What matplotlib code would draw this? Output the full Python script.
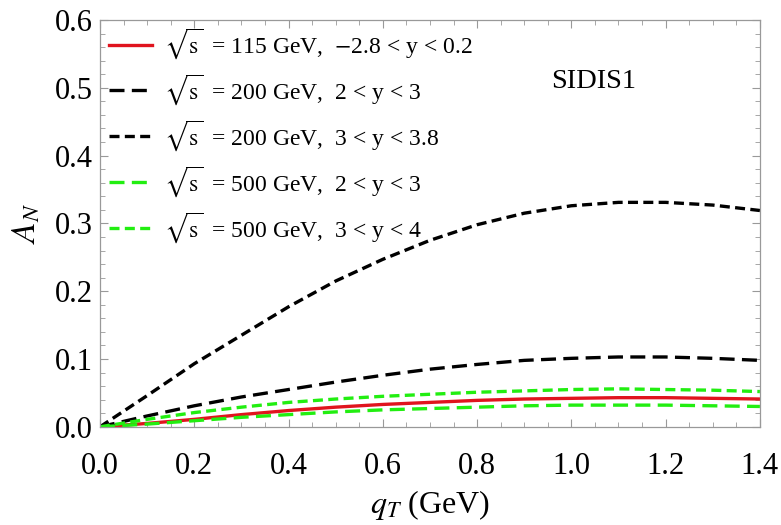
import matplotlib
matplotlib.use("Agg")
import matplotlib.pyplot as plt
from matplotlib.ticker import MultipleLocator, FormatStrFormatter

plt.rcParams['font.family'] = ['Liberation Serif', 'DejaVu Serif']
plt.rcParams['mathtext.fontset'] = 'stix'

qT = [0.0, 0.1, 0.2, 0.3, 0.4, 0.5, 0.6, 0.7, 0.8, 0.9, 1.0, 1.1, 1.2, 1.3, 1.4]
an_115 = [0.0, 0.005, 0.011, 0.018, 0.024, 0.029, 0.033, 0.036, 0.039, 0.041, 0.042, 0.043, 0.043, 0.042, 0.041]
an_200_23 = [0.0, 0.016, 0.031, 0.044, 0.055, 0.066, 0.076, 0.085, 0.092, 0.098, 0.101, 0.103, 0.103, 0.101, 0.098]
an_200_338 = [0.0, 0.046, 0.093, 0.135, 0.177, 0.215, 0.247, 0.275, 0.298, 0.315, 0.326, 0.331, 0.331, 0.327, 0.319]
an_500_23 = [0.0, 0.004, 0.009, 0.014, 0.018, 0.022, 0.025, 0.027, 0.029, 0.031, 0.032, 0.032, 0.032, 0.031, 0.030]
an_500_34 = [0.0, 0.011, 0.021, 0.029, 0.036, 0.041, 0.045, 0.048, 0.051, 0.053, 0.055, 0.056, 0.055, 0.054, 0.052]

labels = [
    r'$\sqrt{\mathrm{s}}\;$ = 115 GeV,  $-$2.8 < y < 0.2',
    r'$\sqrt{\mathrm{s}}\;$ = 200 GeV,  2 < y < 3',
    r'$\sqrt{\mathrm{s}}\;$ = 200 GeV,  3 < y < 3.8',
    r'$\sqrt{\mathrm{s}}\;$ = 500 GeV,  2 < y < 3',
    r'$\sqrt{\mathrm{s}}\;$ = 500 GeV,  3 < y < 4',
]

fig = plt.figure(figsize=(7.81, 5.25), dpi=100)
ax = fig.add_axes([0.128, 0.187, 0.845, 0.775])

red = '#e0141e'
green = '#22ee11'
ax.plot(qT, an_115, color=red, lw=2.4, label=labels[0])
ax.plot(qT, an_200_23, color='black', lw=2.4, dashes=(4.5, 2.2), label=labels[1])
ax.plot(qT, an_200_338, color='black', lw=2.4, dashes=(3.0, 1.6), label=labels[2])
ax.plot(qT, an_500_23, color=green, lw=2.4, dashes=(4.5, 2.2), label=labels[3])
ax.plot(qT, an_500_34, color=green, lw=2.4, dashes=(3.0, 1.6), label=labels[4])

ax.set_xlim(0, 1.4)
ax.set_ylim(0, 0.6)
ax.xaxis.set_major_locator(MultipleLocator(0.2))
ax.xaxis.set_minor_locator(MultipleLocator(0.05))
ax.yaxis.set_major_locator(MultipleLocator(0.1))
ax.yaxis.set_minor_locator(MultipleLocator(0.02))
ax.xaxis.set_major_formatter(FormatStrFormatter('%.1f'))
ax.yaxis.set_major_formatter(FormatStrFormatter('%.1f'))

for s in ax.spines.values():
    s.set_color('#999999')
    s.set_linewidth(0.9)
ax.tick_params(which='both', direction='in', top=True, right=True, color='#999999', labelsize=22)
ax.tick_params(axis='x', which='major', pad=18)
ax.tick_params(axis='y', which='major', pad=5)
ax.tick_params(which='major', length=6, width=0.8)
ax.tick_params(which='minor', length=3.5, width=0.6)

ax.set_xlabel(r'$q_T$ (GeV)', fontsize=23, labelpad=5)
ax.set_ylabel(r'$A_N$', fontsize=24, labelpad=10)

ax.text(594 / 781, 1 - 81 / 525, 'SIDIS1', transform=fig.transFigure, fontsize=20.5, ha='center', va='center')

leg = ax.legend(loc='upper left', frameon=False, fontsize=17, handlelength=1.8,
                handletextpad=0.5, labelspacing=0.47, borderaxespad=0.0,
                bbox_to_anchor=(0.0, 1.008))

fig.savefig('out.png', dpi=100)
